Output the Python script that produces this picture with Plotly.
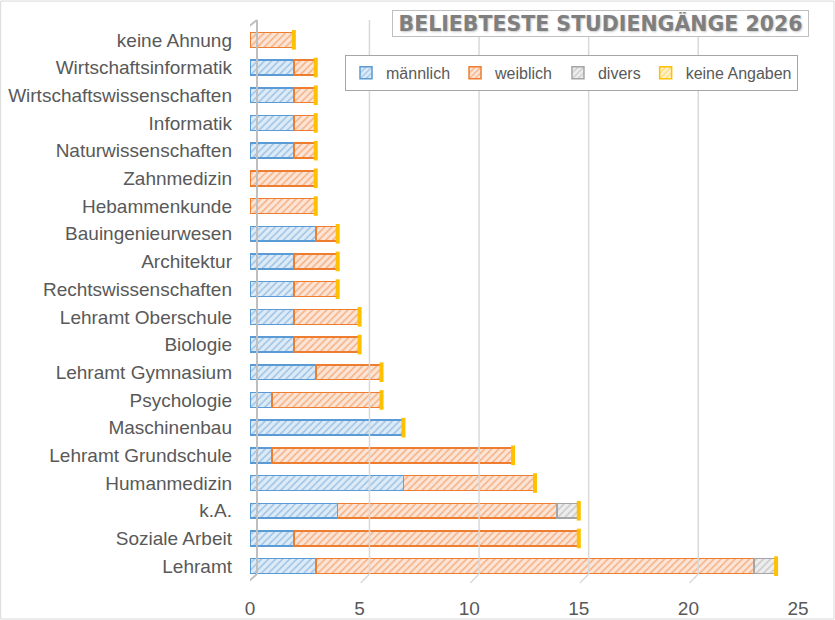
import plotly.graph_objects as go

# Daten (von unten nach oben)
studiengaenge = ['Lehramt', 'Soziale Arbeit', 'k.A.', 'Humanmedizin', 'Lehramt Grundschule',
                 'Maschinenbau', 'Psychologie', 'Lehramt Gymnasium', 'Biologie', 'Lehramt Oberschule',
                 'Rechtswissenschaften', 'Architektur', 'Bauingenieurwesen', 'Hebammenkunde',
                 'Zahnmedizin', 'Naturwissenschaften', 'Informatik', 'Wirtschaftswissenschaften',
                 'Wirtschaftsinformatik', 'keine Ahnung']
maennlich = [3, 2, 4, 7, 1, 7, 1, 3, 2, 2, 2, 2, 3, 0, 0, 2, 2, 2, 2, 0]
weiblich = [20, 13, 10, 6, 11, 0, 5, 3, 3, 3, 2, 2, 1, 3, 3, 1, 1, 1, 1, 2]
divers = [1, 0, 1, 0, 0, 0, 0, 0, 0, 0, 0, 0, 0, 0, 0, 0, 0, 0, 0, 0]
keine_angaben = [0] * 20
x_ticks = [0, 5, 10, 15, 20, 25]

summe = [m + w + d + k for m, w, d, k in zip(maennlich, weiblich, divers, keine_angaben)]

serien = [('männlich', maennlich, '#5b9bd5', '#deebf7'),
          ('weiblich', weiblich, '#ed7d31', '#fce4d6'),
          ('divers', divers, '#a5a5a5', '#ededed'),
          ('keine Angaben', keine_angaben, '#ffc000', '#fff2cc')]

fig = go.Figure()
for name, vals, col, bg in serien:
    fig.add_trace(go.Bar(y=studiengaenge, x=vals, name=name, orientation='h',
                         marker={'color': bg,
                                 'line': {'color': col, 'width': 1.5},
                                 'pattern': {'shape': '/', 'fgcolor': col, 'bgcolor': bg,
                                             'size': 5, 'solidity': 0.3}}))

# gelbe Stirnseite (3D-Effekt)
fig.add_trace(go.Scatter(x=summe, y=studiengaenge, mode='markers', showlegend=False,
                         hoverinfo='skip',
                         marker={'symbol': 'line-ns', 'size': 14,
                                 'line': {'color': '#ffc000', 'width': 4}}))

# Rückwand / Gitter mit leichtem Versatz
shapes = []
for v in x_ticks[1:]:
    shapes.append(dict(type='line', xref='x', yref='paper', x0=v + 0.45, x1=v + 0.45,
                       y0=0.0108, y1=1.0108, line={'color': '#d9d9d9', 'width': 1.5}))
    shapes.append(dict(type='line', xref='x', yref='paper', x0=v + 0.45, x1=v + 0.05,
                       y0=0.0108, y1=-0.0054, line={'color': '#d9d9d9', 'width': 1.5}))
wall = '#bfbfbf'
shapes += [dict(type='line', xref='x', yref='paper', x0=-0.14, x1=-0.14, y0=-0.0054, y1=0.9964,
                line={'color': wall, 'width': 2}),
           dict(type='line', xref='x', yref='paper', x0=0.32, x1=0.32, y0=0.0108, y1=1.0108,
                line={'color': wall, 'width': 2}),
           dict(type='line', xref='x', yref='paper', x0=-0.14, x1=0.32, y0=0.9964, y1=1.0108,
                line={'color': wall, 'width': 2}),
           dict(type='line', xref='x', yref='paper', x0=-0.14, x1=0.32, y0=-0.0054, y1=0.0108,
                line={'color': wall, 'width': 2}),
           dict(type='rect', xref='paper', yref='paper', x0=-0.455, x1=1.0657, y0=-0.0704, y1=1.045,
                line={'color': '#d9d9d9', 'width': 1})]

fig.update_layout(
    width=835, height=620,
    barmode='stack', bargap=0.46,
    hovermode=False,
    paper_bgcolor='white', plot_bgcolor='white',
    font={'family': 'Liberation Sans, Arial', 'color': '#595959'},
    margin={'l': 250, 'r': 37, 't': 26, 'b': 40},
    xaxis={'range': [0, 25], 'tickvals': x_ticks, 'showgrid': False, 'zeroline': False,
           'showline': False, 'tickfont': {'size': 19}, 'ticks': 'outside', 'ticklen': 11,
           'tickcolor': 'rgba(0,0,0,0)', 'automargin': False},
    yaxis={'showgrid': False, 'zeroline': False, 'showline': False, 'tickfont': {'size': 19},
           'ticklabelstandoff': 17, 'range': [-0.5, 19.5], 'automargin': False},
    legend={'orientation': 'h', 'x': 1.0, 'xanchor': 'right', 'y': 0.9477, 'yanchor': 'top',
            'bordercolor': '#a6a6a6', 'borderwidth': 1, 'bgcolor': 'white',
            'font': {'size': 16, 'color': '#595959'}, 'traceorder': 'normal',
            'itemwidth': 30, 'tracegroupgap': 0},
    shapes=shapes,
    annotations=[dict(text='<b>BELIEBTESTE STUDIENGÄNGE 2026</b>', xref='paper', yref='paper',
                      x=0.64, y=1.0054, xanchor='center', yanchor='middle', showarrow=False,
                      width=413, height=23, bgcolor='white', bordercolor='#bfbfbf', borderwidth=1,
                      font={'family': 'DejaVu Sans', 'size': 20.5, 'color': '#7f7f7f',
                            'shadow': '1px 1px 2px #c8c8c8'})],
)

fig.write_html('out.html', config={'displayModeBar': False},
               post_script="document.body.style.margin='0';")
